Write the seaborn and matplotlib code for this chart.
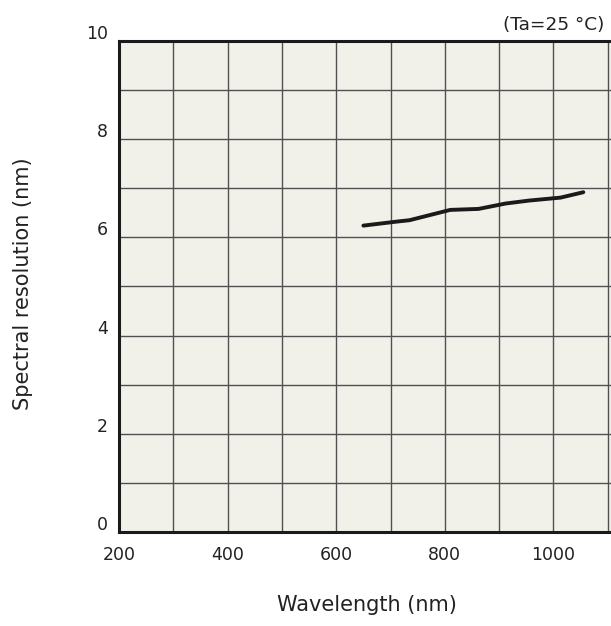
import matplotlib
matplotlib.use("Agg")
import matplotlib.pyplot as plt
import matplotlib.transforms as mtransforms
import seaborn as sns
import numpy as np

# data
wavelength = [650, 710, 735, 810, 862, 912, 955, 1013, 1055]
resolution = [6.24, 6.32, 6.35, 6.56, 6.58, 6.69, 6.75, 6.81, 6.92]

x_major = [200, 400, 600, 800, 1000]
x_minor = [300, 500, 700, 900, 1100]
y_major = [0, 2, 4, 6, 8, 10]
y_minor = [1, 3, 5, 7, 9]

sns.set_theme(style="white")
plt.rcParams['font.family'] = ['DejaVu Sans']

fig = plt.figure(figsize=(6.11, 6.26), dpi=100)
ax = fig.add_axes([0.1948, 0.1502, 1.0 - 0.1948, 0.7843])
ax.set_facecolor("#f2f1e9")

sns.lineplot(x=wavelength, y=resolution, ax=ax, color="#1a1a1a", linewidth=2.8)

ax.set_xlim(200, 1106)
ax.set_ylim(0, 10)
ax.set_xticks(x_major)
ax.set_xticks(x_minor, minor=True)
ax.set_yticks(y_major)
ax.set_yticks(y_minor, minor=True)
ax.grid(True, which="both", color="#505050", linewidth=1.0)
ax.set_axisbelow(True)
ax.tick_params(which="both", length=0, labelsize=12.5, colors="#222222")
ax.tick_params(axis="x", pad=10)
ax.tick_params(axis="y", pad=8)

for side in ["left", "bottom", "top"]:
    ax.spines[side].set_color("#1a1a1a")
    ax.spines[side].set_linewidth(2.2)
ax.spines["right"].set_visible(False)

# y tick labels sit a bit above their grid lines in the reference
offset = mtransforms.ScaledTranslation(0, 9 / 100, fig.dpi_scale_trans)
for lab in ax.get_yticklabels():
    lab.set_transform(lab.get_transform() + offset)

fig.text(367 / 611, 1 - 605 / 626, "Wavelength (nm)", ha="center", va="center",
         fontsize=15, color="#222222")
fig.text(23 / 611, 1 - 284 / 626, "Spectral resolution (nm)", ha="center", va="center",
         rotation=90, fontsize=15, color="#222222")
fig.text(604 / 611, 1 - 25 / 626, "(Ta=25 °C)", ha="right", va="center",
         fontsize=13.3, color="#222222")

fig.savefig("out.png", dpi=100)
